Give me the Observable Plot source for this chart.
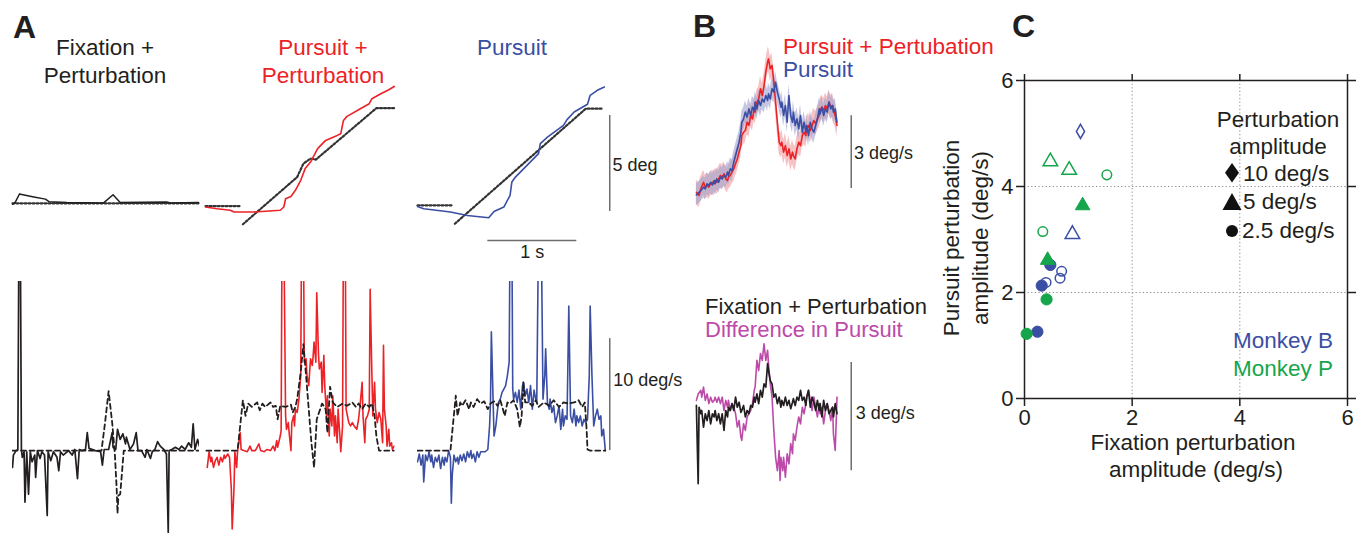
<!DOCTYPE html>
<html><head><meta charset="utf-8">
<script src="https://cdn.jsdelivr.net/npm/d3@7"></script>
<script src="https://cdn.jsdelivr.net/npm/@observablehq/plot@0.6"></script>
<style>
body{margin:0;background:#fff;font-family:"Liberation Sans",Arial,sans-serif;}
#fig{position:relative;width:1366px;height:533px;overflow:hidden;background:#fff;}
.p{position:absolute;}
#ann{position:absolute;left:0;top:0;pointer-events:none;}
</style></head><body><div id="fig"></div>
<script>
// ---------------- DATA ----------------
// Panel A, top row: position (deg) vs time (s)
const fixPosT = [0, 0.03, 0.08, 0.09, 0.24, 0.37, 0.41, 0.61, 0.99, 1.03, 1.13, 1.21, 1.73, 1.78, 2.09];
const fixPosEye = [-0.05, 0.05, 0.5, 0.47, 0.33, 0.22, 0.09, 0.04, 0.02, 0.05, 0.45, 0.05, 0.07, 0.02, 0.04];
const fixTgtT = [0, 2.09];
const fixTgtP = [0, 0];

const redPosT = [0, 0.13, 0.28, 0.32, 0.54, 0.84, 0.88, 0.90, 0.96, 1.01, 1.07, 1.12, 1.18, 1.26, 1.35, 1.48, 1.52, 1.55, 1.59, 1.74, 1.84, 1.87, 1.97, 2.06, 2.12];
const redPosEye = [-0.19, -0.28, -0.36, -0.45, -0.45, -0.36, -0.19, 0.24, 0.36, 0.68, 1.2, 1.81, 2.15, 2.85, 3.28, 3.54, 3.63, 4.32, 4.53, 4.93, 5.19, 5.45, 5.71, 5.92, 6.09];
const redTgtFixT = [0, 0.39];
const redTgtFixP = [-0.14, -0.14];
const redTgtRampT = [0.42, 1.03, 1.10, 1.18, 1.24, 1.92, 2.12];
const redTgtRampP = [-1.09, 1.37, 2.07, 2.33, 2.28, 4.96, 4.96];

const bluePosT = [0, 0.07, 0.37, 0.56, 0.80, 0.86, 0.97, 1.04, 1.06, 1.10, 1.23, 1.36, 1.38, 1.46, 1.64, 1.68, 1.76, 1.91, 1.94, 2.02, 2.10];
const bluePosEye = [-0.16, -0.28, -0.45, -0.63, -0.75, -0.42, -0.19, 0.42, 1.11, 1.37, 1.98, 2.59, 3.11, 3.45, 4.06, 4.36, 4.76, 5.16, 5.63, 5.89, 6.06];
const blueTgtFixT = [0, 0.39];
const blueTgtFixP = [-0.1, -0.1];
const blueTgtRampT = [0.42, 1.89, 2.07];
const blueTgtRampP = [-1.06, 4.93, 4.93];

// Panel A, bottom row: velocity (deg/s) vs time (s)
const fixVelT = [0,0.01,0.04,0.06,0.07,0.09,0.10,0.11,0.13,0.14,0.16,0.18,0.20,0.22,0.25,0.26,0.28,0.31,0.33,0.36,0.39,0.40,0.43,0.46,0.50,0.52,0.54,0.57,0.63,0.67,0.70,0.73,0.75,0.78,0.82,0.84,0.86,0.93,0.99,1.01,1.03,1.08,1.12,1.13,1.16,1.18,1.21,1.24,1.27,1.28,1.32,1.36,1.39,1.41,1.45,1.49,1.51,1.55,1.57,1.60,1.63,1.66,1.70,1.73,1.75,1.76,1.79,1.83,1.87,1.90,1.94,1.98,2.01,2.03,2.05,2.08,2.10];
const fixVelEye = [-1.5,-0.4,0,0.1,16,16,0.1,-0.6,-0.1,-4.6,-0.1,-3.9,-0.1,-1.0,-0.4,-2.4,0,-0.7,-0.1,-0.4,-5.8,-0.1,-0.9,-0.1,-0.6,-1.8,-0.1,-0.4,0,-0.4,0.1,-2.5,0.1,0,0.1,1.6,0.2,0,-0.1,-1.3,0.1,0.1,1.6,0.3,0.1,1.9,1.0,1.5,0.6,1.2,0.1,0.6,1.6,0,0,-0.6,0.1,-0.7,-0.1,0.1,0.8,0.4,0.1,-0.3,-7.3,0,0.1,0.3,0.1,0.4,0.1,0.7,0.3,2.4,0.1,1.0,0.4];
const fixVelTgtT = [0, 1.00, 1.04, 1.08, 1.12, 1.15, 1.17, 1.18, 1.19, 1.21, 1.23, 1.25, 2.10];
const fixVelTgt = [0, 0, 2.5, 5.3, 2.5, -0.3, -3.3, -5.6, -4.0, -3.9, -2.0, 0, 0];

const redVelT = [0.02,0.04,0.06,0.07,0.09,0.11,0.13,0.15,0.17,0.19,0.21,0.22,0.25,0.27,0.29,0.30,0.32,0.33,0.35,0.36,0.39,0.40,0.43,0.47,0.50,0.52,0.56,0.60,0.62,0.66,0.69,0.73,0.76,0.78,0.80,0.81,0.84,0.85,0.86,0.88,0.90,0.91,0.93,0.94,0.96,0.97,0.99,1.00,1.01,1.03,1.05,1.07,1.08,1.10,1.11,1.13,1.14,1.16,1.18,1.20,1.21,1.22,1.24,1.25,1.27,1.28,1.30,1.31,1.33,1.34,1.36,1.37,1.39,1.40,1.42,1.43,1.45,1.46,1.48,1.49,1.51,1.52,1.54,1.55,1.57,1.58,1.61,1.63,1.65,1.67,1.70,1.72,1.74,1.76,1.77,1.79,1.80,1.82,1.84,1.85,1.87,1.88,1.90,1.91,1.93,1.95,1.97,1.99,2.00,2.01,2.03,2.04,2.06,2.07,2.09,2.10,2.12];
const redVelEye = [-1.5,-0.1,-1.0,-0.6,-1.5,-0.9,-0.6,-1.3,-0.6,-1.0,-0.4,-0.7,-0.3,-0.6,-3.4,-7.0,-3.4,-0.1,-1.5,-0.1,1.6,0.1,0,-0.1,0.4,0,0,0.6,0,-0.1,0.1,0,0.4,0,0.9,0.3,1.3,1.8,20,20,3.1,1.9,2.5,1.6,0,2.5,3.1,2.2,3.7,3.4,4.6,6.7,20,20,7.9,8.2,6.7,5.8,8.2,7.6,8.5,9.7,7.9,14.1,8.5,7.3,7.9,5.2,8.5,5.8,3.1,4.9,1.3,3.7,2.2,4.9,1.3,3.1,0.7,3.7,1.3,-0.1,2.2,20,20,3.7,2.5,2.2,2.5,2.2,1.9,2.8,4.3,6.1,3.1,0.7,2.8,3.1,3.7,14.4,6.7,3.1,6.1,3.7,2.5,3.4,2.8,0.7,9.4,3.7,2.2,0.4,1.9,0.4,0.7,0.1,0.4];
const redVelTgtT = [0.01,0.36,0.42,0.45,0.48,0.52,0.58,0.61,0.64,0.67,0.73,0.76,0.79,0.81,0.84,0.90,0.96,0.98,1.01,1.03,1.07,1.10,1.13,1.16,1.19,1.22,1.25,1.31,1.35,1.37,1.40,1.43,1.48,1.54,1.59,1.65,1.69,1.72,1.76,1.80,1.84,1.87,1.90,1.92,1.95,2.12];
const redVelTgt = [0,0,4.5,3.1,4.2,3.9,4.3,3.6,4.2,3.9,4.3,3.9,4.0,2.8,4.0,3.9,4.1,3.4,3.9,4.6,7.0,9.5,6.7,3.7,0.7,-1.5,2.8,4.2,3.7,1.6,5.7,4.3,3.9,4.2,4.0,4.3,3.9,4.2,3.7,4.2,3.9,4.2,3.1,1.3,0,0];

const blueVelT = [0,0.02,0.04,0.06,0.07,0.09,0.11,0.13,0.15,0.16,0.18,0.20,0.22,0.24,0.26,0.28,0.30,0.31,0.33,0.35,0.37,0.38,0.39,0.41,0.43,0.45,0.46,0.48,0.50,0.52,0.54,0.56,0.58,0.60,0.61,0.63,0.65,0.67,0.69,0.71,0.73,0.76,0.79,0.81,0.82,0.83,0.85,0.86,0.88,0.90,0.91,0.93,0.95,0.97,0.99,1.01,1.03,1.04,1.06,1.07,1.08,1.10,1.12,1.14,1.16,1.18,1.19,1.21,1.23,1.25,1.27,1.29,1.31,1.33,1.34,1.36,1.39,1.41,1.43,1.44,1.46,1.48,1.49,1.51,1.53,1.55,1.57,1.59,1.61,1.63,1.64,1.66,1.68,1.70,1.72,1.74,1.76,1.78,1.79,1.81,1.83,1.85,1.87,1.89,1.91,1.93,1.94,1.96,1.98,2.00,2.02,2.04,2.06,2.07,2.09,2.11];
const blueVelEye = [-1.0,-0.3,-1.3,-0.4,-2.8,-0.4,-0.9,-0.1,-1.0,-0.4,-1.5,-0.6,-1.0,-0.4,-1.6,-0.6,-1.3,-0.6,-1.0,0,-0.6,-4.7,-2.2,-0.4,-1.0,-0.6,-1.2,-0.4,-0.9,-0.3,-1.0,-0.1,-0.6,0,-0.7,-0.3,-1.0,-0.1,-0.6,-0.1,-0.1,-0.1,0.1,2.2,4.3,10.6,4.3,1.3,2.2,3.7,4.3,4.6,5.2,5.5,5.8,6.7,7.9,20,20,5.5,4.6,5.2,4.3,5.4,3.7,5.8,6.1,4.9,5.5,4.3,5.8,3.7,5.4,4.5,4.3,20,20,4.6,6.7,9.1,4.3,3.7,4.6,3.4,4.0,2.5,3.1,4.0,1.9,3.7,2.2,3.1,2.8,12.9,3.1,2.5,3.7,2.2,3.1,2.5,3.1,2.2,2.8,2.5,2.8,6.7,12.9,6.7,2.2,3.1,3.7,2.8,3.1,1.3,1.9,0];
const blueVelTgtT = [0,0.37,0.43,0.45,0.48,0.50,0.54,0.58,0.60,0.63,0.67,0.71,0.75,0.79,0.82,0.86,0.90,0.93,0.96,0.98,1.01,1.04,1.08,1.12,1.15,1.17,1.19,1.21,1.25,1.29,1.33,1.36,1.42,1.48,1.53,1.59,1.64,1.70,1.76,1.81,1.85,1.88,1.90,1.91,1.94,2.11];
const blueVelTgt = [0,0,4.9,3.1,4.3,4.0,4.5,3.7,4.3,3.9,4.6,4.2,4.4,3.7,4.2,4.4,4.0,4.5,3.7,3.1,4.3,4.2,4.5,3.7,2.1,3.1,6.1,4.3,4.3,4.0,4.5,3.9,4.3,4.0,4.5,3.9,4.3,4.2,4.3,4.5,3.9,4.3,1.9,0.1,0,0];

// Panel B, top: mean eye velocity (deg/s)
const bT = [0.01,0.04,0.06,0.09,0.11,0.13,0.15,0.17,0.19,0.21,0.22,0.24,0.26,0.28,0.30,0.32,0.34,0.36,0.37,0.39,0.41,0.43,0.45,0.47,0.49,0.51,0.52,0.54,0.56,0.58,0.60,0.62,0.64,0.66,0.67,0.69,0.71,0.73,0.75,0.77,0.79,0.81,0.82,0.84,0.86,0.88,0.90,0.92,0.94,0.96,0.97,0.99,1.01,1.03,1.05,1.07,1.09,1.10,1.12,1.14,1.16,1.18,1.20,1.22,1.24,1.25,1.27,1.29,1.31,1.33,1.35,1.37,1.39,1.40,1.42,1.44,1.46,1.48,1.50,1.52,1.54,1.55,1.57,1.59];
const bBlue = [0.23,0.34,0.41,0.55,0.48,0.69,0.62,0.75,0.64,0.82,0.69,0.89,0.75,0.96,0.89,1.03,0.96,1.17,1.03,1.30,1.23,1.58,1.85,2.13,2.40,2.81,3.22,3.36,3.64,3.43,3.77,3.50,3.84,3.70,4.05,3.77,4.12,3.91,4.18,4.05,4.32,4.12,4.39,4.18,4.60,4.46,4.87,4.46,4.18,3.84,4.05,3.50,3.91,3.22,4.32,3.50,3.22,3.64,3.09,3.36,2.95,3.50,2.81,3.22,2.81,3.09,2.67,3.22,2.95,2.81,3.09,3.36,3.77,3.57,3.84,3.50,3.77,3.64,4.05,3.77,3.91,3.64,3.77,3.22];
const bRed = [0.34,0.21,0.48,0.75,0.55,0.62,0.55,0.69,0.75,0.69,0.82,0.75,0.89,1.03,0.96,1.10,0.89,0.82,0.96,1.03,1.17,1.30,1.51,1.71,1.99,2.26,2.67,2.81,2.88,3.22,3.09,3.50,3.36,3.77,3.64,4.05,4.18,4.60,4.32,4.73,5.28,5.69,5.83,5.42,5.56,4.87,4.05,3.22,2.40,2.26,2.40,1.99,2.26,1.85,2.13,1.71,1.99,1.85,1.71,2.13,2.40,2.26,2.67,2.81,2.67,2.95,3.09,2.88,3.09,3.29,3.16,3.36,3.50,3.70,3.84,3.70,3.91,3.77,4.05,3.84,3.91,3.70,3.50,3.09];

// Panel B, bottom (deg/s)
const bbT = [0.01,0.03,0.04,0.06,0.07,0.09,0.11,0.13,0.15,0.17,0.19,0.21,0.22,0.24,0.26,0.28,0.30,0.32,0.34,0.36,0.37,0.39,0.41,0.43,0.45,0.47,0.49,0.51,0.52,0.54,0.56,0.58,0.60,0.62,0.64,0.66,0.67,0.69,0.71,0.73,0.75,0.77,0.79,0.81,0.82,0.84,0.86,0.88,0.90,0.92,0.94,0.96,0.97,0.99,1.01,1.03,1.05,1.07,1.09,1.10,1.12,1.14,1.16,1.18,1.20,1.22,1.24,1.25,1.27,1.29,1.31,1.33,1.35,1.37,1.39,1.40,1.42,1.44,1.46,1.48,1.50,1.52,1.54,1.55,1.57,1.59];
const bbFix = [0,-2.17,-0.05,-0.23,-0.14,-0.60,-0.23,-0.42,-0.14,-0.51,-0.23,-0.32,-0.14,-0.42,-0.23,-0.51,-0.23,-0.69,-0.14,-0.32,-0.05,-0.14,0.05,-0.14,0.23,-0.05,0.09,-0.19,-0.14,0,-0.32,-0.14,-0.23,0,-0.05,0.23,0.09,0.32,0.05,0.42,0.23,0.60,0.51,1.16,0.97,0.69,0.60,0.23,0.32,0.05,0.23,-0.05,0.14,0,0.23,0,0.14,-0.09,0.09,0.19,0,0.23,0.14,0.42,0.14,0.23,0,0.23,0.42,-0.05,0.23,0.09,-0.14,0.14,-0.14,0.05,-0.32,0.14,-0.14,0.05,-0.23,-0.14,-0.05,-0.32,0.05,-0.23];
const bbDiffT = [0.01,0.03,0.06,0.07,0.09,0.11,0.13,0.15,0.17,0.19,0.21,0.22,0.24,0.26,0.28,0.30,0.32,0.34,0.36,0.37,0.39,0.41,0.43,0.45,0.47,0.49,0.51,0.52,0.54,0.56,0.58,0.60,0.62,0.64,0.66,0.67,0.69,0.71,0.73,0.75,0.77,0.79,0.81,0.82,0.84,0.86,0.88,0.90,0.92,0.94,0.95,0.96,0.98,0.99,1.01,1.03,1.05,1.07,1.09,1.10,1.12,1.14,1.16,1.18,1.20,1.22,1.24,1.25,1.27,1.29,1.31,1.33,1.35,1.37,1.39,1.40,1.42,1.44,1.46,1.48,1.50,1.52,1.54,1.55,1.57,1.59];
const bbDiff = [0.14,0.32,0.42,0.23,0.51,0.14,0.32,0.05,0.23,0.09,0.14,0.23,0.09,0.23,0.05,0.23,-0.14,0.14,-0.05,0.14,-0.14,0.05,-0.05,-0.23,-0.60,-0.42,-0.88,-0.97,-0.51,-0.69,-0.32,-0.23,-0.14,0.05,0.42,0.51,1.25,0.97,1.44,1.25,1.71,1.25,1.53,1.16,0.60,0.23,-0.69,-1.44,-1.81,-1.25,-2.08,-1.44,-1.81,-1.44,-1.99,-1.34,-1.62,-1.06,-1.34,-0.79,-0.97,-0.60,-0.32,-0.51,-0.05,-0.23,0.05,0.23,0.42,0.14,-0.14,0.23,-0.05,-0.32,0.05,-0.23,-0.05,-0.51,-0.14,0.05,-0.14,-0.42,-0.05,-0.79,-1.25,0.23];

// Panel C: scatter (deg/s)
const cFix =    [1.04, 0.89, 0.48, 0.69, 0.66, 0.40, 0.32, 0.24, 0.48, 0.83, 1.53, 1.08, 0.34, 0.43, 0.41, 0.04];
const cPur =    [5.04, 3.10, 2.52, 2.40, 2.27, 2.19, 2.13, 1.26, 4.47, 4.31, 4.22, 3.64, 3.15, 2.61, 1.87, 1.22];
const cMonkey = ["B","B","B","B","B","B","B","B","P","P","P","P","P","P","P","P"];
const cAmp =    [10, 5, 2.5, 2.5, 2.5, 2.5, 2.5, 2.5, 5, 5, 2.5, 5, 2.5, 5, 2.5, 2.5];
const cFilled = [false,false,true,false,false,false,true,true,false,false,false,true,false,true,true,true];
const cTicks = [0, 2, 4, 6];

// ---------------- DRAW ----------------
const RED = "#ec2227", BLUE = "#3a4ea3", GREEN = "#15a54a", MAG = "#bd4aa8", INK = "#231f20", BAR = "#6d6d6d";
const FONT = "'Liberation Sans', Arial, sans-serif";
const zip = (T, V) => T.map((t, i) => ({t, v: V[i]}));
const fig = document.getElementById("fig");
function place(el, left, top) {
  const d = document.createElement("div");
  d.className = "p"; d.style.left = left + "px"; d.style.top = top + "px";
  d.appendChild(el); fig.appendChild(d);
}
const PXS = 89; // px per second
const baseStyle = {background: "transparent", overflow: "visible", fontFamily: FONT, color: INK};

function posPlot(tmax, marks) {
  return Plot.plot({width: tmax * PXS, height: 182, margin: 0, style: baseStyle,
    x: {domain: [0, tmax], axis: null}, y: {domain: [-3.08, 6.4], axis: null}, marks});
}
function velPlot(tmax, marks) {
  return Plot.plot({width: tmax * PXS, height: 252, margin: 0, style: baseStyle,
    x: {domain: [0, tmax], axis: null}, y: {domain: [-7.4, 15.1], axis: null}, marks});
}
const tgtDot = {x: "t", y: "v", stroke: "#333", strokeWidth: 2.2, strokeDasharray: "2,2"};
const tgtDash = {x: "t", y: "v", stroke: INK, strokeWidth: 1.8, strokeDasharray: "5,3.5", clip: true};

// A top
place(posPlot(2.1, [
  Plot.line(zip(fixTgtT, fixTgtP), tgtDot),
  Plot.line(zip(fixPosT, fixPosEye), {x: "t", y: "v", stroke: INK, strokeWidth: 1.5})
]), 12, 80);
place(posPlot(2.13, [
  Plot.line(zip(redTgtFixT, redTgtFixP), tgtDot),
  Plot.line(zip(redTgtRampT, redTgtRampP), tgtDot),
  Plot.line(zip(redPosT, redPosEye), {x: "t", y: "v", stroke: RED, strokeWidth: 1.6})
]), 205, 80);
place(posPlot(3.0, [
  Plot.line(zip(blueTgtFixT, blueTgtFixP), tgtDot),
  Plot.line(zip(blueTgtRampT, blueTgtRampP), tgtDot),
  Plot.line(zip(bluePosT, bluePosEye), {x: "t", y: "v", stroke: BLUE, strokeWidth: 1.6}),
  Plot.ruleX([2.16], {y1: -0.42, y2: 4.58, stroke: BAR, strokeWidth: 1.5}),
  Plot.ruleY([-1.93], {x1: 0.79, x2: 1.79, stroke: BAR, strokeWidth: 1.5}),
  Plot.text(["5 deg"], {x: 2.19, y: 1.98, text: d => d, textAnchor: "start", fontSize: 18, fill: INK}),
  Plot.text(["1 s"], {x: 1.29, y: -2.55, text: d => d, fontSize: 18, fill: INK})
]), 417, 80);

// A bottom
place(velPlot(2.1, [
  Plot.line(zip(fixVelTgtT, fixVelTgt), tgtDash),
  Plot.line(zip(fixVelT, fixVelEye), {x: "t", y: "v", stroke: INK, strokeWidth: 1.7, clip: true})
]), 12, 281);
place(velPlot(2.13, [
  Plot.line(zip(redVelT, redVelEye), {x: "t", y: "v", stroke: RED, strokeWidth: 1.6, clip: true}),
  Plot.line(zip(redVelTgtT, redVelTgt), tgtDash)
]), 205, 281);
place(velPlot(3.0, [
  Plot.line(zip(blueVelT, blueVelEye), {x: "t", y: "v", stroke: BLUE, strokeWidth: 1.6, clip: true}),
  Plot.line(zip(blueVelTgtT, blueVelTgt), tgtDash),
  Plot.ruleX([2.16], {y1: 0, y2: 10, stroke: BAR, strokeWidth: 1.5}),
  Plot.text(["10 deg/s"], {x: 2.2, y: 6.25, text: d => d, textAnchor: "start", fontSize: 18, fill: INK})
]), 417, 281);

// B top
const bBlueD = zip(bT, bBlue), bRedD = zip(bT, bRed);
place(Plot.plot({width: 2.6 * PXS, height: 175, margin: 0, style: baseStyle,
  x: {domain: [0, 2.6], axis: null}, y: {domain: [-0.41, 6.79], axis: null},
  marks: [
    Plot.areaY(bRedD, {x: "t", y1: d => d.v - 0.5, y2: d => d.v + 0.5, fill: "#f29a9c", fillOpacity: 0.6}),
    Plot.areaY(bBlueD, {x: "t", y1: d => d.v - 0.45, y2: d => d.v + 0.45, fill: "#9ea2cf", fillOpacity: 0.6}),
    Plot.line(bRedD, {x: "t", y: "v", stroke: RED, strokeWidth: 1.6}),
    Plot.line(bBlueD, {x: "t", y: "v", stroke: BLUE, strokeWidth: 1.6}),
    Plot.ruleX([1.75], {y1: 0.49, y2: 3.49, stroke: BAR, strokeWidth: 1.5}),
    Plot.text(["3 deg/s"], {x: 1.78, y: 1.95, text: d => d, textAnchor: "start", fontSize: 18, fill: INK})
  ]}), 695, 35);

// B bottom
place(Plot.plot({width: 2.6 * PXS, height: 160, margin: 0, style: baseStyle,
  x: {domain: [0, 2.6], axis: null}, y: {domain: [-2.36, 2.08], axis: null},
  marks: [
    Plot.line(zip(bbDiffT, bbDiff), {x: "t", y: "v", stroke: MAG, strokeWidth: 1.6}),
    Plot.line(zip(bbT, bbFix), {x: "t", y: "v", stroke: INK, strokeWidth: 1.7}),
    Plot.ruleX([1.75], {y1: -1.81, y2: 1.19, stroke: BAR, strokeWidth: 1.5}),
    Plot.text(["3 deg/s"], {x: 1.80, y: -0.21, text: d => d, textAnchor: "start", fontSize: 18, fill: INK})
  ]}), 695, 330);

// C scatter
const cData = cFix.map((x, i) => ({x, y: cPur[i], monkey: cMonkey[i], amp: cAmp[i], filled: cFilled[i]}));
const col = d => d.monkey === "B" ? BLUE : GREEN;
const dotOpts = (sym, rOpen, rFill) => [
  Plot.dot(cData.filter(d => d.amp === sym.amp && !d.filled), {x: "x", y: "y", symbol: sym.s, r: rOpen, fill: "none", stroke: col, strokeWidth: 1.5}),
  Plot.dot(cData.filter(d => d.amp === sym.amp && d.filled), {x: "x", y: "y", symbol: sym.s, r: rFill, fill: col, stroke: col, strokeWidth: 1})
];
const intFmt = d => String(d);
place(Plot.plot({width: 436, height: 533, marginLeft: 94, marginRight: 19, marginTop: 80, marginBottom: 135,
  style: {...baseStyle, fontSize: "22px"},
  x: {domain: [0, 6]}, y: {domain: [0, 6]}, color: {type: "identity"},
  marks: [
    Plot.ruleX([2, 4], {stroke: "#8a8a8a", strokeWidth: 1, strokeDasharray: "1.2,2.4"}),
    Plot.ruleY([2, 4], {stroke: "#8a8a8a", strokeWidth: 1, strokeDasharray: "1.2,2.4"}),
    Plot.axisX({anchor: "bottom", ticks: cTicks, tickFormat: intFmt, tickSize: 8, tickPadding: 3, label: null, stroke: INK, strokeWidth: 1.5, fontSize: 22}),
    Plot.axisX({anchor: "top", ticks: cTicks, tickSize: 7, tickFormat: () => "", label: null, stroke: INK, strokeWidth: 1.5}),
    Plot.axisY({anchor: "left", ticks: cTicks, tickFormat: intFmt, tickSize: 8, tickPadding: 3, label: null, stroke: INK, strokeWidth: 1.5, fontSize: 22}),
    Plot.axisY({anchor: "right", ticks: cTicks, tickSize: 8, tickFormat: () => "", label: null, stroke: INK, strokeWidth: 1.5}),
    Plot.frame({stroke: INK, strokeWidth: 1.5}),
    ...dotOpts({amp: 2.5, s: "circle"}, 4.8, 5.6),
    ...dotOpts({amp: 5, s: "triangle"}, 5.4, 5.4),
    ...dotOpts({amp: 10, s: "diamond"}, 4.3, 4.3)
  ]}), 930, 0);

// Annotations (titles, labels, legend)
const NS = "http://www.w3.org/2000/svg";
const ann = document.createElementNS(NS, "svg");
ann.setAttribute("id", "ann"); ann.setAttribute("width", 1366); ann.setAttribute("height", 533);
ann.setAttribute("font-family", FONT);
function T(str, x, y, o = {}) {
  const t = document.createElementNS(NS, "text");
  t.textContent = str;
  if (o.rot) t.setAttribute("transform", `translate(${x},${y}) rotate(-90)`);
  else { t.setAttribute("x", x); t.setAttribute("y", y); }
  t.setAttribute("font-size", o.fs || 22.5);
  t.setAttribute("fill", o.fill || INK);
  if (o.anchor) t.setAttribute("text-anchor", o.anchor);
  if (o.bold) t.setAttribute("font-weight", "bold");
  ann.appendChild(t);
}
function P(d, fill) { const p = document.createElementNS(NS, "path"); p.setAttribute("d", d); p.setAttribute("fill", fill); ann.appendChild(p); }
T("A", 13, 38, {fs: 32, bold: true});
T("B", 693, 37, {fs: 32, bold: true});
T("C", 1012, 37, {fs: 32, bold: true});
T("Fixation +", 105, 55, {anchor: "middle"});
T("Perturbation", 105, 83, {anchor: "middle"});
T("Pursuit +", 323, 55, {anchor: "middle", fill: RED});
T("Perturbation", 323, 83, {anchor: "middle", fill: RED});
T("Pursuit", 512, 55, {anchor: "middle", fill: BLUE});
T("Pursuit + Pertubation", 783, 54, {fill: RED});
T("Pursuit", 783, 77, {fill: BLUE});
T("Fixation + Perturbation", 705, 314, {fs: 22});
T("Difference in Pursuit", 705, 337, {fs: 22, fill: MAG});
T("Pursuit perturbation", 959, 238, {rot: true, anchor: "middle"});
T("amplitude (deg/s)", 988, 238, {rot: true, anchor: "middle"});
T("Fixation perturbation", 1193, 450, {anchor: "middle"});
T("amplitude (deg/s)", 1196, 477, {anchor: "middle"});
T("Perturbation", 1278, 127, {anchor: "middle"});
T("amplitude", 1278, 154, {anchor: "middle"});
P("M1232,163 L1239,172.7 L1232,182.4 L1225,172.7Z", "#111");
P("M1232,193 L1241.5,210 L1222.5,210Z", "#111");
P("M1226,231 a6,6 0 1,0 12,0 a6,6 0 1,0 -12,0Z", "#111");
T("10 deg/s", 1243, 181);
T("5 deg/s", 1243, 209);
T("2.5 deg/s", 1242, 238);
T("Monkey B", 1333, 348, {anchor: "end", fill: BLUE});
T("Monkey P", 1333, 376, {anchor: "end", fill: GREEN});
fig.appendChild(ann);
</script>
</body></html>
